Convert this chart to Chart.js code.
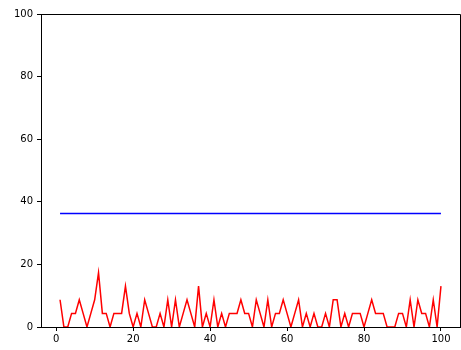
<!DOCTYPE html>
<html>
<head>
<meta charset="utf-8">
<script src="https://cdn.jsdelivr.net/npm/chart.js@4/dist/chart.umd.min.js"></script>
<style>
  html, body { margin: 0; padding: 0; background: #fff; }
  canvas { display: block; }
</style>
</head>
<body>
<canvas id="chart" width="461" height="350"></canvas>
<script>
(function () {
  "use strict";

  const STEPS = [
    1, 2, 3, 4, 5, 6, 7, 8, 9, 10,
    11, 12, 13, 14, 15, 16, 17, 18, 19, 20,
    21, 22, 23, 24, 25, 26, 27, 28, 29, 30,
    31, 32, 33, 34, 35, 36, 37, 38, 39, 40,
    41, 42, 43, 44, 45, 46, 47, 48, 49, 50,
    51, 52, 53, 54, 55, 56, 57, 58, 59, 60,
    61, 62, 63, 64, 65, 66, 67, 68, 69, 70,
    71, 72, 73, 74, 75, 76, 77, 78, 79, 80,
    81, 82, 83, 84, 85, 86, 87, 88, 89, 90,
    91, 92, 93, 94, 95, 96, 97, 98, 99, 100
  ];

  const RATE = [
    8.7, 0, 0, 4.35, 4.35, 8.7, 4.35, 0, 4.35, 8.7,
    17.39, 4.35, 4.35, 0, 4.35, 4.35, 4.35, 13.04, 4.35, 0,
    4.35, 0, 8.7, 4.35, 0, 0, 4.35, 0, 8.7, 0,
    8.7, 0, 4.35, 8.7, 4.35, 0, 13.04, 0, 4.35, 0,
    8.7, 0, 4.35, 0, 4.35, 4.35, 4.35, 8.7, 4.35, 4.35,
    0, 8.7, 4.35, 0, 8.7, 0, 4.35, 4.35, 8.7, 4.35,
    0, 4.35, 8.7, 0, 4.35, 0, 4.35, 0, 0, 4.35,
    0, 8.7, 8.7, 0, 4.35, 0, 4.35, 4.35, 4.35, 0,
    4.35, 8.7, 4.35, 4.35, 4.35, 0, 0, 0, 4.35, 4.35,
    0, 8.7, 0, 8.7, 4.35, 4.35, 0, 8.7, 0, 13.04
  ];

  const LEVEL = 36.3;

  const X_TICKS = [0, 20, 40, 60, 80, 100];
  const Y_TICKS = [0, 20, 40, 60, 80, 100];

  const FONT = { family: "'DejaVu Sans', sans-serif", size: 10 };

  // closed frame: Chart.js only draws the left/bottom borders
  const framePlugin = {
    id: "frame",
    afterDraw: function (chart) {
      const a = chart.chartArea;
      const ctx = chart.ctx;
      ctx.save();
      ctx.strokeStyle = "#000";
      ctx.lineWidth = 1;
      ctx.beginPath();
      ctx.moveTo(Math.round(a.left) + 0.5, Math.round(a.top) + 0.5);
      ctx.lineTo(Math.round(a.right) + 0.5, Math.round(a.top) + 0.5);
      ctx.lineTo(Math.round(a.right) + 0.5, Math.round(a.bottom) + 0.5);
      ctx.stroke();
      ctx.restore();
    },
  };

  function axisGrid() {
    return {
      drawOnChartArea: false,
      drawTicks: true,
      tickLength: 4,
      tickColor: "#000",
      tickWidth: 1,
    };
  }

  new Chart(document.getElementById("chart"), {
    type: "line",
    data: {
      datasets: [
        {
          data: STEPS.map(function (x, i) { return { x: x, y: RATE[i] }; }),
          borderColor: "#ff0000",
          borderWidth: 1.5,
          pointRadius: 0,
          tension: 0,
          fill: false,
        },
        {
          data: STEPS.map(function (x) { return { x: x, y: LEVEL }; }),
          borderColor: "#0000ff",
          borderWidth: 1.5,
          pointRadius: 0,
          tension: 0,
          fill: false,
        },
      ],
    },
    options: {
      responsive: false,
      animation: false,
      devicePixelRatio: 1,
      layout: { padding: { top: 14, right: 1, left: 0, bottom: 0 } },
      plugins: {
        legend: { display: false },
        tooltip: { enabled: false },
      },
      scales: {
        x: {
          type: "linear",
          min: -3.95,
          max: 104.95,
          afterBuildTicks: function (scale) {
            scale.ticks = X_TICKS.map(function (v) { return { value: v }; });
          },
          afterFit: function (scale) { scale.height = 23; },
          ticks: { color: "#000", font: FONT, padding: 2, maxRotation: 0 },
          grid: axisGrid(),
          border: { display: true, color: "#000", width: 1 },
        },
        y: {
          min: 0,
          max: 100,
          afterBuildTicks: function (scale) {
            scale.ticks = Y_TICKS.map(function (v) { return { value: v }; });
          },
          afterFit: function (scale) { scale.width = 41; },
          ticks: { color: "#000", font: FONT, padding: 4 },
          grid: axisGrid(),
          border: { display: true, color: "#000", width: 1 },
        },
      },
    },
    plugins: [framePlugin],
  });
})();
</script>
</body>
</html>
